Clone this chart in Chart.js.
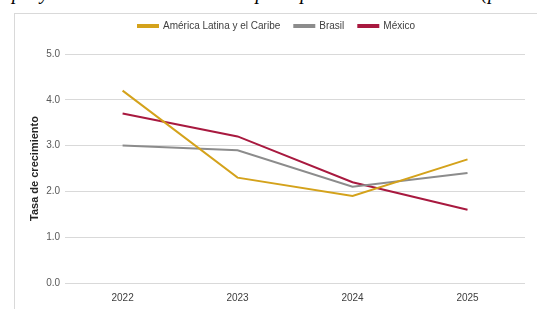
<!DOCTYPE html>
<html>
<head>
<meta charset="utf-8">
<script src="https://cdn.jsdelivr.net/npm/chart.js@4"></script>
<style>
  body { margin: 0; background: #fff; width: 537px; height: 309px; overflow: hidden; position: relative; }
  #title { position: absolute; left: 12px; top: -19px; font: italic 20px "Liberation Serif", serif; color: #000; white-space: nowrap; letter-spacing: 0.4px; }
  #frame { position: absolute; left: 14px; top: 13px; width: 540px; height: 310px; border: 1px solid #d9d9d9; box-sizing: border-box; background: #fff; }
  #wrap { position: absolute; left: 0; top: 0; width: 537px; height: 309px; }
</style>
</head>
<body>
<div id="title">proyecciones de crecimiento para países seleccionados (porcentaje)</div>
<div id="frame"></div>
<div id="wrap"><canvas id="chart" width="537" height="309"></canvas></div>
<script>
// Data
const years = ['2022', '2023', '2024', '2025'];
const americaLatina = [4.2, 2.3, 1.9, 2.7];
const brasil = [3.0, 2.9, 2.1, 2.4];
const mexico = [3.7, 3.2, 2.2, 1.6];

const font = "'Liberation Sans', Arial, sans-serif";

// extra space under the legend
const legendGap = {
  id: 'legendGap',
  beforeInit(chart) {
    const fit = chart.legend.fit;
    chart.legend.fit = function () {
      fit.bind(chart.legend)();
      this.height += 13;
    };
  }
};

const ctx = document.getElementById('chart').getContext('2d');
new Chart(ctx, {
  type: 'line',
  data: {
    labels: years,
    datasets: [
      { label: 'América Latina y el Caribe', data: americaLatina, borderColor: '#d4a21b', backgroundColor: '#d4a21b' },
      { label: 'Brasil', data: brasil, borderColor: '#8c8c8c', backgroundColor: '#8c8c8c' },
      { label: 'México', data: mexico, borderColor: '#a8193f', backgroundColor: '#a8193f' }
    ]
  },
  plugins: [legendGap],
  options: {
    responsive: false,
    animation: false,
    elements: {
      line: { borderWidth: 2, tension: 0 },
      point: { radius: 0 }
    },
    layout: { padding: { left: 28, right: 12, top: 7, bottom: -4 } },
    plugins: {
      legend: {
        position: 'top',
        labels: {
          boxWidth: 20, boxHeight: 2, padding: 14,
          color: '#404040', font: { family: font, size: 10 }
        }
      },
      tooltip: { enabled: false }
    },
    scales: {
      x: {
        offset: true,
        grid: { display: false, drawTicks: false },
        border: { display: false },
        ticks: { color: '#404040', padding: 9, font: { family: font, size: 10 } }
      },
      y: {
        min: 0, max: 5,
        grid: { color: '#d9d9d9', lineWidth: 1, drawTicks: false },
        border: { display: false },
        ticks: {
          stepSize: 1, padding: 5, color: '#595959',
          font: { family: font, size: 10 },
          callback: v => v.toFixed(1)
        },
        title: {
          display: true, text: 'Tasa de crecimiento', color: '#262626',
          font: { family: font, size: 11, weight: 'bold' },
          padding: { top: 0, bottom: 0 }
        }
      }
    }
  }
});
</script>
</body>
</html>
